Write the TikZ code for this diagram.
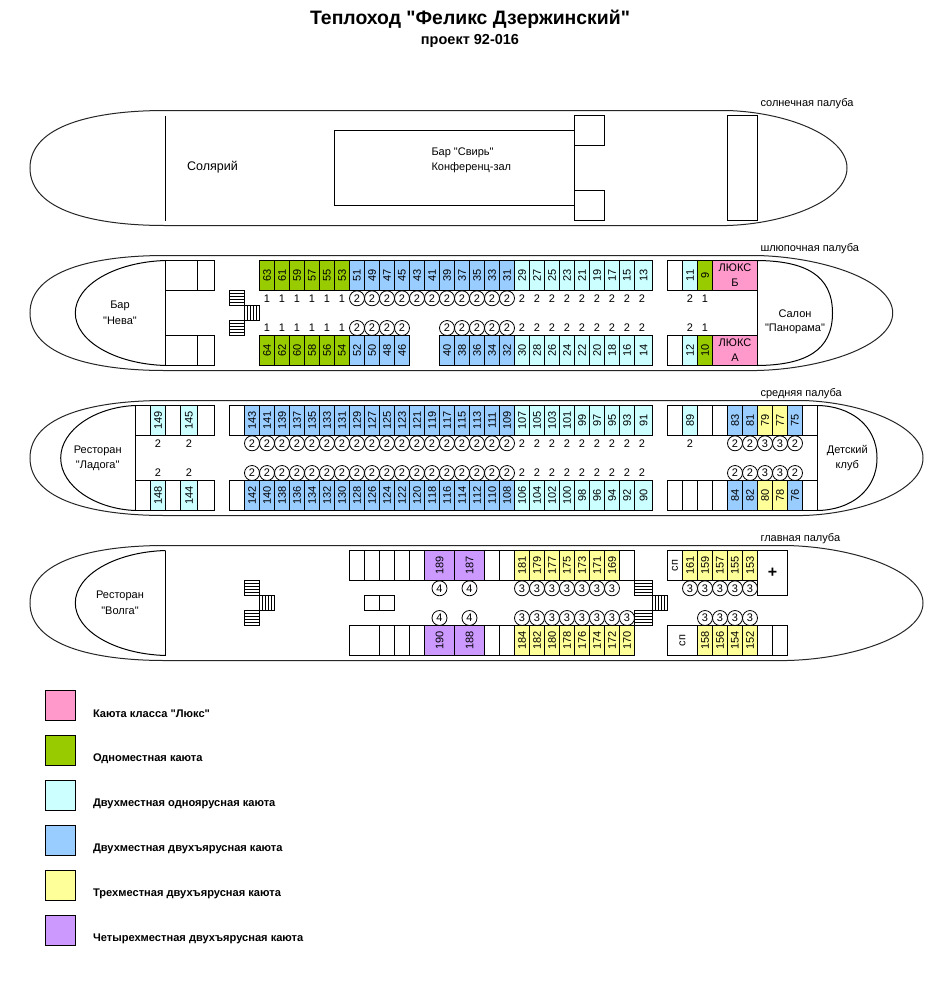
\documentclass[tikz,border=0pt]{standalone}
\usepackage{graphicx}
\usepackage{fontspec}
\setmainfont{Liberation Sans}[Ligatures=TeXOff]
\definecolor{lux}{HTML}{FF99CC}
\definecolor{one}{HTML}{99CC00}
\definecolor{twol}{HTML}{CCFFFF}
\definecolor{twob}{HTML}{99CCFF}
\definecolor{three}{HTML}{FFFF99}
\definecolor{four}{HTML}{CC99FF}
\tikzset{
  cab/.style={draw=black,line width=1pt,inner sep=0pt,outer sep=0pt,font=\fontsize{11}{12}\selectfont,align=center},
  ring/.style={draw=black,line width=.8pt,circle,minimum size=15pt,inner sep=0pt,outer sep=0pt,font=\fontsize{11}{12}\selectfont},
  plain/.style={inner sep=0pt,outer sep=0pt,font=\fontsize{11}{12}\selectfont},
  hull/.style={line width=1pt,black!85},
  wall/.style={line width=1pt,black},
  lab/.style={inner sep=0pt,outer sep=0pt,font=\fontsize{11}{12}\selectfont},
  leg/.style={inner sep=0pt,outer sep=0pt,anchor=west,font=\fontsize{11.1}{12}\selectfont\bfseries},
  legbox/.style={draw=black,line width=1pt,minimum size=30pt,inner sep=0pt,outer sep=0pt}
}
% generic rectangle node
\newcommand\room[7]{%
  \pgfmathsetmacro\rw{#4-#2}\pgfmathsetmacro\rh{#5-#3}%
  \node[cab,#6,minimum width=\rw pt,minimum height=\rh pt] (#1) at ({(#2+#4)/2},{(#3+#5)/2}) {#7};}
% row of 15-wide numbered cabins
\newcommand\cells[4]{%
  \foreach \n [count=\i from 0] in {#4} {%
    \pgfmathsetmacro\cx{#1+15*\i}\pgfmathsetmacro\cxx{\cx+15}\pgfmathsetmacro\cy{#2+30}%
    \room{c\n}{\cx}{#2}{\cxx}{\cy}{#3}{\rotatebox{90}{\n}}}}
% row of empty 15-wide cells
\newcommand\blanks[4]{%
  \foreach \i in {1,...,#4} {%
    \pgfmathsetmacro\cx{#1+15*(\i-1)}\pgfmathsetmacro\cxx{\cx+15}\pgfmathsetmacro\cy{#2+30}%
    \room{b#3\i}{\cx}{#2}{\cxx}{\cy}{fill=white}{}}}
% row of occupancy marks
\newcommand\seats[5]{%
  \foreach \v [count=\i from 0] in {#5} {%
    \node[#4] (s#3\i) at ({#1+15*\i},#2) {\v};}}
\newcommand\hullshape[3]{% y-centre, right start, right end
  \draw[hull] (165,#1-57.5) .. controls (95,#1-57.5) and (30,#1-43) .. (30,#1)
     .. controls (30,#1+43) and (95,#1+57.5) .. (165,#1+57.5)
     -- (#2,#1+57.5) .. controls ({#2+(#3-#2)*.48},#1+56) and (#3,#1+33) .. (#3,#1)
     .. controls (#3,#1-33) and ({#2+(#3-#2)*.48},#1-56) .. (#2,#1-57.5) -- cycle;}
\newcommand\stairH[4]{%
  \draw[wall] (#1,#2) rectangle (#3,#4);
  \foreach \k in {3,6,9,12} \draw[wall,line width=.8pt] (#1,#2+\k) -- (#3,#2+\k);}
\newcommand\stairV[4]{%
  \draw[wall] (#1,#2) rectangle (#3,#4);
  \foreach \k in {3,6,9,12} \draw[wall,line width=.8pt] (#1+\k,#2) -- (#1+\k,#4);}
\begin{document}
\begin{tikzpicture}[x=1pt,y=-1pt]
\useasboundingbox (0,0) rectangle (938,991);
\fill[white] (0,0) rectangle (938,991);

% Title
\node[inner sep=0pt,font=\fontsize{19.4}{21}\selectfont\bfseries] (title) at (470,19) {Теплоход "Феликс Дзержинский"};
\node[inner sep=0pt,font=\fontsize{14.5}{16}\selectfont\bfseries] (sub) at (470,41) {проект 92-016};

% Deck labels
\node[lab,anchor=west] (d1) at (760.5,104) {солнечная палуба};
\node[lab,anchor=west] (d2) at (760.5,249) {шлюпочная палуба};
\node[lab,anchor=west] (d3) at (760.5,394) {средняя палуба};
\node[lab,anchor=west] (d4) at (760.5,539) {главная палуба};

% ---------- Sun deck
\hullshape{168}{727}{847}
\draw[wall] (165.5,115.5) -- (165.5,220.5);
\node[inner sep=0pt,font=\fontsize{12.5}{14}\selectfont] (sol) at (212.5,167.5) {Солярий};
\draw[wall] (574.5,130.5) -- (334.5,130.5) -- (334.5,205.5) -- (574.5,205.5);
\draw[wall] (574.5,115.5) -- (574.5,220.5);
\draw[wall] (574.5,115.5) rectangle (604.5,145.5);
\draw[wall] (574.5,190.5) rectangle (604.5,220.5);
\draw[wall] (727.5,115.5) rectangle (757.5,220.5);
\node[lab,anchor=west] (svir) at (431.5,152.5) {Бар "Свирь"};
\node[lab,anchor=west] (conf) at (431.5,167.5) {Конференц-зал};

% ---------- Boat deck
\hullshape{313}{757}{892.7}
\draw[wall] (165.5,260.5) .. controls (115,262) and (75.3,285) .. (75.3,313)
   .. controls (75.3,341) and (115,364) .. (165.5,365.5);
\draw[wall] (165.5,260.5) -- (165.5,365.5);
\draw[wall] (757.5,260.5) .. controls (805,261) and (832.5,275) .. (832.5,313)
   .. controls (832.5,351) and (805,365) .. (757.5,365.5);
\draw[wall] (757.5,260.5) -- (757.5,365.5);
\foreach \yy/\tg in {260.5/t,335.5/b} {
  \pgfmathsetmacro\yz{\yy+30}
  \room{bd\tg a}{165.5}{\yy}{197.5}{\yz}{fill=white}{}
  \room{bd\tg b}{197.5}{\yy}{214.5}{\yz}{fill=white}{}
  \room{bd\tg c}{667.5}{\yy}{682.5}{\yz}{fill=white}{}
}
\cells{259.5}{260.5}{fill=one}{63,61,59,57,55,53}
\cells{349.5}{260.5}{fill=twob}{51,49,47,45,43,41,39,37,35,33,31}
\cells{514.5}{260.5}{fill=twol}{29,27,25,23,21,19,17,15}
\room{c13}{634.5}{260.5}{652.5}{290.5}{fill=twol}{\rotatebox{90}{13}}
\cells{682.5}{260.5}{fill=twol}{11}
\cells{697.5}{260.5}{fill=one}{9}
\room{luxb}{712.5}{260.5}{757.5}{290.5}{fill=lux}{ЛЮКС\\[3pt]Б}
\cells{259.5}{335.5}{fill=one}{64,62,60,58,56,54}
\cells{349.5}{335.5}{fill=twob}{52,50,48,46}
\cells{439.5}{335.5}{fill=twob}{40,38,36,34,32}
\cells{514.5}{335.5}{fill=twol}{30,28,26,24,22,20,18,16}
\room{c14}{634.5}{335.5}{652.5}{365.5}{fill=twol}{\rotatebox{90}{14}}
\cells{682.5}{335.5}{fill=twol}{12}
\cells{697.5}{335.5}{fill=one}{10}
\room{luxa}{712.5}{335.5}{757.5}{365.5}{fill=lux}{ЛЮКС\\[3pt]А}
\stairH{229.5}{290.5}{244.5}{305.5}
\stairV{244.5}{305.5}{259.5}{320.5}
\stairH{229.5}{320.5}{244.5}{335.5}
\seats{267}{298.3}{a}{plain}{1,1,1,1,1,1}
\seats{357}{298.3}{b}{ring}{2,2,2,2,2,2,2,2,2,2,2}
\seats{522}{298.3}{c}{plain}{2,2,2,2,2,2,2,2,2}
\seats{690}{298.3}{d}{plain}{2,1}
\seats{267}{328}{e}{plain}{1,1,1,1,1,1}
\seats{357}{328}{f}{ring}{2,2,2,2}
\seats{447}{328}{g}{ring}{2,2,2,2,2}
\seats{522}{328}{h}{plain}{2,2,2,2,2,2,2,2,2}
\seats{690}{328}{i}{plain}{2,1}
\node[lab] (nev1) at (120,306) {Бар};
\node[lab] (nev2) at (120,320.5) {"Нева"};
\node[lab] (pan1) at (795,313.5) {Салон};
\node[lab] (pan2) at (795,328.5) {"Панорама"};

% ---------- Middle deck
\hullshape{458}{803}{923}
\draw[wall] (135.5,405.5) .. controls (95,407) and (60.7,430) .. (60.7,458)
   .. controls (60.7,486) and (95,509) .. (135.5,510.5);
\draw[wall] (135.5,405.5) -- (135.5,510.5);
\draw[wall] (817.5,405.5) .. controls (850,406) and (877,425) .. (877,458)
   .. controls (877,491) and (850,510) .. (817.5,510.5);
\draw[wall] (817.5,405.5) -- (817.5,510.5);
\foreach \yy/\tg in {405.5/t,480.5/b} {
  \pgfmathsetmacro\yz{\yy+30}
  \room{md\tg a}{135.5}{\yy}{150.5}{\yz}{fill=white}{}
  \room{md\tg b}{165.5}{\yy}{180.5}{\yz}{fill=white}{}
  \room{md\tg c}{197.5}{\yy}{214.5}{\yz}{fill=white}{}
  \room{md\tg d}{229.5}{\yy}{244.5}{\yz}{fill=white}{}
  \room{md\tg e}{667.5}{\yy}{682.5}{\yz}{fill=white}{}
  \room{md\tg f}{697.5}{\yy}{712.5}{\yz}{fill=white}{}
  \room{md\tg g}{712.5}{\yy}{727.5}{\yz}{fill=white}{}
  \room{md\tg h}{802.5}{\yy}{817.5}{\yz}{fill=white}{}
}
\room{bmd}{682.5}{480.5}{697.5}{510.5}{fill=white}{}
\room{c149}{150.5}{405.5}{165.5}{435.5}{fill=twol}{\rotatebox{90}{149}}
\room{c145}{180.5}{405.5}{197.5}{435.5}{fill=twol}{\rotatebox{90}{145}}
\room{c148}{150.5}{480.5}{165.5}{510.5}{fill=twol}{\rotatebox{90}{148}}
\room{c144}{180.5}{480.5}{197.5}{510.5}{fill=twol}{\rotatebox{90}{144}}
\cells{244.5}{405.5}{fill=twob}{143,141,139,137,135,133,131,129,127,125,123,121,119,117,115,113,111,109}
\cells{514.5}{405.5}{fill=twol}{107,105,103,101,99,97,95,93}
\room{c91}{634.5}{405.5}{652.5}{435.5}{fill=twol}{\rotatebox{90}{91}}
\cells{682.5}{405.5}{fill=twol}{89}
\cells{727.5}{405.5}{fill=twob}{83,81}
\cells{757.5}{405.5}{fill=three}{79,77}
\cells{787.5}{405.5}{fill=twob}{75}
\cells{244.5}{480.5}{fill=twob}{142,140,138,136,134,132,130,128,126,124,122,120,118,116,114,112,110,108}
\cells{514.5}{480.5}{fill=twol}{106,104,102,100,98,96,94,92}
\room{c90}{634.5}{480.5}{652.5}{510.5}{fill=twol}{\rotatebox{90}{90}}
\cells{727.5}{480.5}{fill=twob}{84,82}
\cells{757.5}{480.5}{fill=three}{80,78}
\cells{787.5}{480.5}{fill=twob}{76}
\node[plain] (m1) at (158,443.3) {2};
\node[plain] (m2) at (189,443.3) {2};
\node[plain] (m3) at (158,473) {2};
\node[plain] (m4) at (189,473) {2};
\seats{252}{443.3}{j}{ring}{2,2,2,2,2,2,2,2,2,2,2,2,2,2,2,2,2,2}
\seats{522}{443.3}{k}{plain}{2,2,2,2,2,2,2,2,2}
\seats{690}{443.3}{l}{plain}{2}
\seats{735}{443.3}{m}{ring}{2,2,3,3,2}
\seats{252}{473}{n}{ring}{2,2,2,2,2,2,2,2,2,2,2,2,2,2,2,2,2,2}
\seats{522}{473}{o}{plain}{2,2,2,2,2,2,2,2,2}
\seats{735}{473}{p}{ring}{2,2,3,3,2}
\node[lab] (lad1) at (97.7,451) {Ресторан};
\node[lab] (lad2) at (97.7,465.5) {"Ладога"};
\node[lab] (det1) at (847.3,451) {Детский};
\node[lab] (det2) at (847.3,465.5) {клуб};

% ---------- Main deck
\hullshape{603}{787}{923}
\draw[wall] (165.5,550.5) .. controls (115,552) and (75.3,575) .. (75.3,603)
   .. controls (75.3,631) and (115,654) .. (165.5,655.5);
\draw[wall] (165.5,550.5) -- (165.5,655.5);
\blanks{349.5}{550.5}{q}{5}
\room{c189}{424.5}{550.5}{454.5}{580.5}{fill=four}{\rotatebox{90}{189}}
\room{c187}{454.5}{550.5}{484.5}{580.5}{fill=four}{\rotatebox{90}{187}}
\blanks{484.5}{550.5}{r}{2}
\cells{514.5}{550.5}{fill=three}{181,179,177,175,173,171,169}
\blanks{619.5}{550.5}{s}{1}
\room{sp1}{667.5}{550.5}{682.5}{580.5}{fill=white}{\rotatebox{90}{сп}}
\cells{682.5}{550.5}{fill=three}{161,159,157,155,153}
\room{med}{757.5}{550.5}{787.5}{595.5}{fill=white,font=\fontsize{16}{18}\selectfont\bfseries}{+}
\room{bw}{349.5}{625.5}{379.5}{655.5}{fill=white}{}
\blanks{379.5}{625.5}{t}{3}
\room{c190}{424.5}{625.5}{454.5}{655.5}{fill=four}{\rotatebox{90}{190}}
\room{c188}{454.5}{625.5}{484.5}{655.5}{fill=four}{\rotatebox{90}{188}}
\blanks{484.5}{625.5}{u}{2}
\cells{514.5}{625.5}{fill=three}{184,182,180,178,176,174,172,170}
\room{sp2}{667.5}{625.5}{697.5}{655.5}{fill=white}{\rotatebox{90}{сп}}
\cells{697.5}{625.5}{fill=three}{158,156,154,152}
\blanks{757.5}{625.5}{v}{2}
\room{box1}{364.5}{595.5}{379.5}{610.5}{fill=white}{}
\room{box2}{379.5}{595.5}{394.5}{610.5}{fill=white}{}
\stairH{244.5}{580.5}{259.5}{595.5}
\stairV{259.5}{595.5}{274.5}{610.5}
\stairH{244.5}{610.5}{259.5}{625.5}
\stairH{634.5}{580.5}{652.5}{595.5}
\stairV{652.5}{595.5}{667.5}{610.5}
\stairH{634.5}{610.5}{652.5}{625.5}
\node[ring] (x4a) at (439.5,588.3) {4};
\node[ring] (x4b) at (469.5,588.3) {4};
\node[ring] (x4c) at (439.5,618) {4};
\node[ring] (x4d) at (469.5,618) {4};
\seats{522}{588.3}{y}{ring}{3,3,3,3,3,3,3}
\seats{690}{588.3}{z}{ring}{3,3,3,3,3}
\seats{522}{618}{ab}{ring}{3,3,3,3,3,3,3,3}
\seats{705}{618}{ac}{ring}{3,3,3,3}
\node[lab] (vol1) at (120,596) {Ресторан};
\node[lab] (vol2) at (120,610.5) {"Волга"};

% ---------- Legend
\node[legbox,fill=lux] (k1) at (60.5,705.5) {};
\node[legbox,fill=one] (k2) at (60.5,750.5) {};
\node[legbox,fill=twol] (k3) at (60.5,795.5) {};
\node[legbox,fill=twob] (k4) at (60.5,840.5) {};
\node[legbox,fill=three] (k5) at (60.5,885.5) {};
\node[legbox,fill=four] (k6) at (60.5,930.5) {};
\node[leg] (t1) at (93,714) {Каюта класса "Люкс"};
\node[leg] (t2) at (93,759) {Одноместная каюта};
\node[leg] (t3) at (93,804) {Двухместная одноярусная каюта};
\node[leg] (t4) at (93,849) {Двухместная двухъярусная каюта};
\node[leg] (t5) at (93,894) {Трехместная двухъярусная каюта};
\node[leg] (t6) at (93,939) {Четырехместная двухъярусная каюта};
\end{tikzpicture}
\end{document}
